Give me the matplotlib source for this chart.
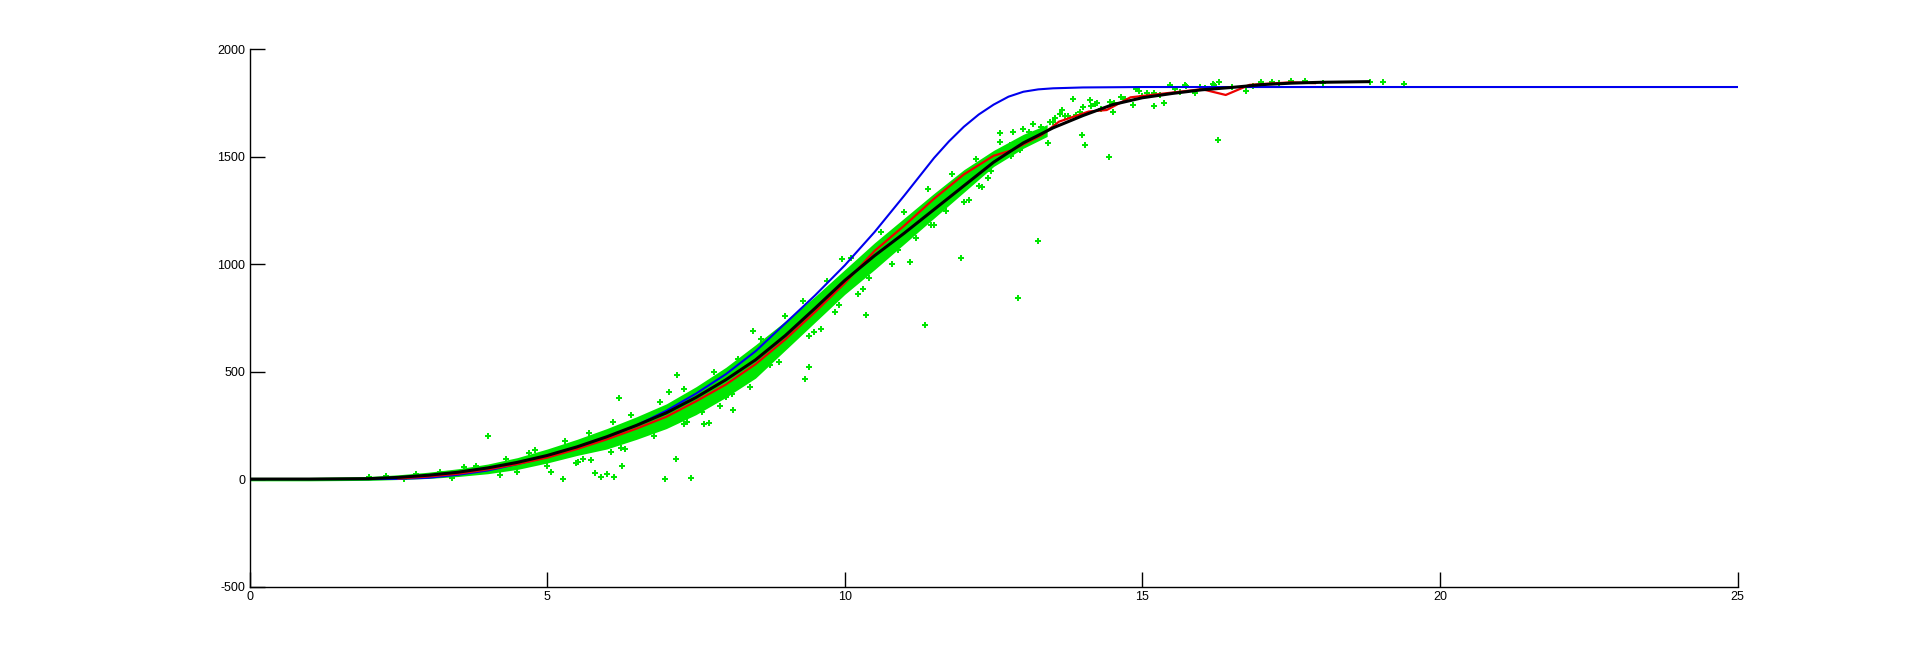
import matplotlib
matplotlib.use("Agg")
import matplotlib.pyplot as plt

# ---------------- data ----------------
# model curve (blue)
blue_t = [0, 1, 2, 2.5, 3, 3.5, 4, 4.5, 5, 5.5, 6, 6.5, 7, 7.5, 8, 8.5, 9, 9.5,
          10, 10.5, 11, 11.5, 11.75, 12, 12.25, 12.5, 12.75, 13, 13.25, 13.5, 14,
          15, 20, 25]
blue_v = [0, 0, 0, 1, 6, 20, 40, 70, 103, 145, 195, 250, 318, 398, 488, 595, 725, 855,
          995, 1150, 1320, 1495, 1572, 1640, 1697, 1743, 1780, 1803, 1814, 1819, 1823,
          1825, 1825, 1825]

# smoothed estimate (black)
black_t = [0, 1, 2, 2.5, 3, 3.5, 4, 4.5, 5, 5.5, 6, 6.5, 7, 7.5, 8, 8.5, 9, 9.5,
           10, 10.5, 11, 11.5, 12, 12.5, 13, 13.5, 14, 14.5, 15, 15.5, 16, 16.5,
           17, 17.5, 18, 18.8]
black_v = [0, 0, 2, 8, 18, 32, 52, 78, 110, 150, 197, 250, 308, 380, 462, 555, 668, 795,
           925, 1040, 1145, 1255, 1365, 1475, 1565, 1635, 1692, 1743, 1775, 1795, 1812, 1823,
           1836, 1843, 1847, 1850]

# binned estimate (red)
red_t = [2.5, 3, 3.5, 4, 4.5, 5, 5.5, 6, 6.5, 7, 7.5, 8, 8.5, 9, 9.5, 10, 10.5, 11,
         11.5, 12, 12.5, 12.8, 13.3, 13.6, 14.1, 14.4, 14.8, 15.4, 16.0, 16.4, 16.8,
         17.5, 17.9]
red_v = [3, 12, 25, 45, 70, 100, 140, 185, 235, 290, 362, 440, 535, 650, 778, 912, 1062, 1180,
         1305, 1418, 1505, 1530, 1600, 1664, 1711, 1718, 1777, 1796, 1815, 1788, 1835,
         1847, 1843]

# dense part of the measured cloud (green): lower / upper envelope
band_t  = [0, 1, 2, 2.5, 3, 3.5, 4, 4.5, 5, 5.5, 6, 6.5, 7, 7.5, 8, 8.5, 9, 9.5,
           10, 10.5, 11, 11.5, 12, 12.5, 13, 13.4]
band_lo = [-8, -8, -6, -2, 3, 12, 25, 45, 75, 110, 140, 185, 235, 300, 380, 470, 600, 730,
           860, 975, 1095, 1215, 1335, 1455, 1540, 1595]
band_hi = [8, 8, 12, 20, 32, 48, 70, 100, 140, 185, 235, 290, 350, 430, 520, 625, 735, 850,
           975, 1100, 1215, 1330, 1440, 1530, 1605, 1650]

# individual measured points (green)
pts_t = [4.01, 6.2, 5.26, 5.07, 5.52, 5.74, 5.81, 5.90, 6.0, 6.12, 6.26, 6.08, 6.24, 6.98,
         7.42, 7.16, 7.35, 7.63, 7.72, 8.12, 8.11, 8.3, 7.04, 7.18, 8.45, 8.74, 9.17, 5.49,
         11.09, 11.96, 11.34, 10.35, 10.22, 9.83, 9.4, 9.33, 9.48, 9.95, 12.91, 13.24,
         11.45, 12.08, 12.26, 12.46, 14.44, 14.03, 13.99, 13.41, 16.27,
         13.83, 14.12, 19.4, 19.04, 18.82, 18.03, 17.73, 17.17, 17.0, 16.86, 16.74, 16.29,
         16.21, 15.96, 15.88, 15.74, 15.63, 15.47, 15.37, 15.2, 15.2, 15.07, 14.95, 14.9,
         14.84, 14.64, 14.53, 14.45, 14.5, 14.31, 14.23, 14.14, 14.0, 13.95, 13.89, 13.75,
         13.61, 13.53, 13.44, 13.16, 13.1, 12.82, 12.6, 12.77, 12.94, 15.71, 16.18,
         13.3, 13.5, 13.7, 13.65, 14.2, 14.7, 15.0, 15.3, 15.55, 16.05, 16.5, 17.3, 17.5,
         3.6, 4.3, 4.8, 5.3, 5.7, 6.1, 6.4, 6.9, 7.3, 7.8, 8.2, 8.6, 9.0, 9.3, 9.7, 10.1,
         10.6, 11.0, 11.4, 11.8, 12.2, 12.6, 13.0,
         4.5, 5.0, 5.6, 6.3, 6.8, 7.3, 7.9, 8.4, 8.9, 9.4, 9.9, 10.4, 10.9, 11.5, 12.0,
         12.4, 12.8, 2.0, 2.3, 2.8, 3.2, 3.8, 4.2, 3.4, 2.6, 4.7, 5.9, 6.6, 7.6, 8.0, 8.8,
         9.6, 10.3, 10.8, 11.2, 11.7, 12.3]
pts_v = [200, 376, 0, 35, 81, 89, 27, 8, 24, 8, 61, 128, 143, 0,
         4, 94, 267, 256, 263, 322, 396, 457, 404, 483, 691, 531, 655, 73,
         1012, 1028, 717, 764, 860, 776, 520, 466, 683, 1023, 842, 1107,
         1181, 1299, 1364, 1436, 1498, 1555, 1602, 1563, 1579,
         1768, 1765, 1839, 1847, 1847, 1843, 1855, 1850, 1850, 1830, 1808, 1847,
         1835, 1827, 1796, 1830, 1804, 1835, 1752, 1737, 1799, 1796, 1808, 1815,
         1742, 1780, 1752, 1757, 1710, 1722, 1750, 1737, 1734, 1710, 1695, 1690,
         1700, 1680, 1664, 1653, 1617, 1617, 1610, 1555, 1532, 1835, 1839,
         1640, 1660, 1690, 1720, 1745, 1770, 1785, 1790, 1815, 1820, 1825, 1845, 1852,
         55, 95, 135, 175, 215, 265, 300, 360, 420, 500, 560, 650, 760, 830, 920, 1030,
         1150, 1245, 1350, 1420, 1490, 1570, 1630,
         35, 60, 95, 140, 200, 255, 340, 430, 545, 665, 810, 935, 1065, 1185, 1290,
         1400, 1505, 12, 15, 25, 35, 60, 20, 5, 2, 120, 170, 230, 310, 380, 560,
         700, 885, 1000, 1120, 1250, 1360]

x_ticks = [0, 5, 10, 15, 20, 25]
y_ticks = [-500, 0, 500, 1000, 1500, 2000]

# ---------------- drawing ----------------
GREEN = "#00e600"
plt.rcParams["font.family"] = ["Liberation Sans", "DejaVu Sans"]

fig = plt.figure(figsize=(19.2, 6.59), dpi=100)
ax = fig.add_axes([0.13, 0.11, 0.775, 0.815])

ax.fill_between(band_t, band_lo, band_hi, color=GREEN, lw=0, zorder=1)
ax.plot(pts_t, pts_v, linestyle="none", marker="P", ms=5, mew=0,
        color=GREEN, zorder=2)
ax.plot(blue_t, blue_v, color="#0000ee", lw=1.5, zorder=3)
ax.plot(red_t, red_v, color="#ee0000", lw=1.6, zorder=4)
ax.plot(black_t, black_v, color="black", lw=2.2, zorder=5)

ax.set_xlim(0, 25)
ax.set_ylim(-500, 2000)
ax.set_xticks(x_ticks)
ax.set_yticks(y_ticks)
ax.set_xticklabels([str(v) for v in x_ticks])
ax.set_yticklabels([str(v) for v in y_ticks])

for s in ("top", "right"):
    ax.spines[s].set_visible(False)
for s in ("left", "bottom"):
    ax.spines[s].set_linewidth(1.0)
ax.tick_params(direction="in", length=10.8, width=1.0, labelsize=9,
               colors="black")
ax.tick_params(axis="x", pad=3)
ax.tick_params(axis="y", pad=3)

fig.savefig("out.png", dpi=100, facecolor="white")
